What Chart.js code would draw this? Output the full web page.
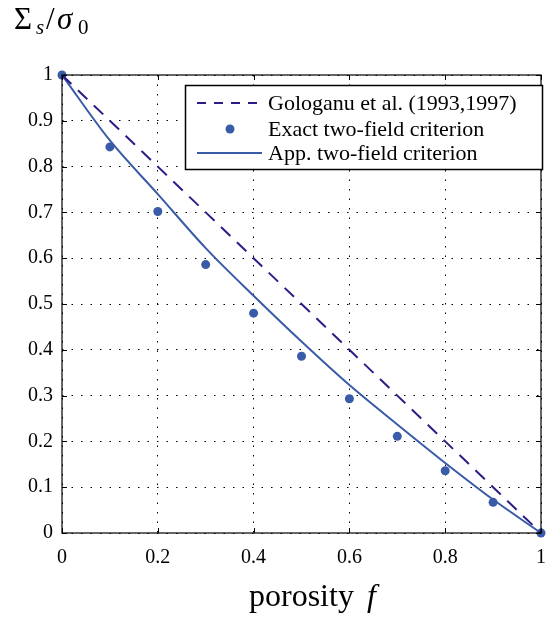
<!DOCTYPE html>
<html>
<head>
<meta charset="utf-8">
<script src="https://cdn.jsdelivr.net/npm/chart.js@4"></script>
<style>
  html, body { margin: 0; padding: 0; background: #fff; }
  #chart { display: block; }
</style>
</head>
<body>
<canvas id="chart" width="559" height="619"></canvas>
<script>
// --- DATA ---
const porosity = [0, 0.1, 0.2, 0.3, 0.4, 0.5, 0.6, 0.7, 0.8, 0.9, 1];
const gologanu = [1, 0.9, 0.8, 0.7, 0.6, 0.5, 0.4, 0.3, 0.2, 0.1, 0];
const exactTwoField = [1, 0.843, 0.702, 0.586, 0.480, 0.386, 0.293, 0.211, 0.136, 0.067, 0];
const approxTwoField = [1, 0.857, 0.740, 0.622, 0.518, 0.418, 0.323, 0.237, 0.153, 0.073, 0];
const xTicks = [0, 0.2, 0.4, 0.6, 0.8, 1];
const yTicks = [0, 0.1, 0.2, 0.3, 0.4, 0.5, 0.6, 0.7, 0.8, 0.9, 1];
const legendLabels = ['Gologanu et al. (1993,1997)', 'Exact two-field criterion', 'App. two-field criterion'];

const DASH_COLOR = '#2d1c86';
const BLUE = '#3a5ba8';
const FONT = '"Liberation Serif", "DejaVu Serif", serif';

const pts = ys => porosity.map((x, i) => ({ x: x, y: ys[i] }));

// --- CUSTOM DRAWING: frame, inward ticks, legend, axis titles ---
const decorations = {
    id: 'decorations',
    afterDraw(chart) {
        const ctx = chart.ctx;
        const a = chart.chartArea;
        const xs = chart.scales.x, ys = chart.scales.y;
        ctx.save();

        // frame
        ctx.strokeStyle = '#000';
        ctx.lineWidth = 1.2;
        ctx.strokeRect(a.left, a.top, a.right - a.left, a.bottom - a.top);

        // inward ticks on all four sides
        ctx.lineWidth = 1;
        xTicks.forEach(v => {
            const px = Math.round(xs.getPixelForValue(v)) + 0.5;
            ctx.beginPath();
            ctx.moveTo(px, a.bottom); ctx.lineTo(px, a.bottom - 5);
            ctx.moveTo(px, a.top); ctx.lineTo(px, a.top + 5);
            ctx.stroke();
        });
        yTicks.forEach(v => {
            const py = Math.round(ys.getPixelForValue(v)) + 0.5;
            ctx.beginPath();
            ctx.moveTo(a.left, py); ctx.lineTo(a.left + 5, py);
            ctx.moveTo(a.right, py); ctx.lineTo(a.right - 5, py);
            ctx.stroke();
        });

        // legend box
        const bx = 185, by = 85, bw = 357, bh = 84;
        ctx.fillStyle = '#fff';
        ctx.fillRect(bx, by, bw, bh);
        ctx.lineWidth = 1.5;
        ctx.strokeStyle = '#000';
        ctx.strokeRect(bx + 0.5, by + 0.5, bw, bh);

        const rows = [103, 129, 153];
        // dashed sample
        ctx.strokeStyle = DASH_COLOR;
        ctx.lineWidth = 2;
        ctx.setLineDash([9, 8]);
        ctx.beginPath(); ctx.moveTo(197, rows[0]); ctx.lineTo(264, rows[0]); ctx.stroke();
        ctx.setLineDash([]);
        // dot sample
        ctx.fillStyle = BLUE;
        ctx.beginPath(); ctx.arc(230, rows[1], 4.5, 0, Math.PI * 2); ctx.fill();
        // solid sample
        ctx.strokeStyle = BLUE;
        ctx.beginPath(); ctx.moveTo(197, rows[2]); ctx.lineTo(262, rows[2]); ctx.stroke();

        ctx.fillStyle = '#000';
        ctx.font = '22px ' + FONT;
        ctx.textBaseline = 'middle';
        ctx.textAlign = 'left';
        legendLabels.forEach((t, i) => ctx.fillText(t, 268, rows[i] + 1));

        // y-axis title: Σs/σ0
        ctx.textBaseline = 'alphabetic';
        ctx.font = '31px ' + FONT;
        ctx.fillText('Σ', 14, 29);
        ctx.font = 'italic 21px ' + FONT;
        ctx.fillText('s', 36, 34);
        ctx.font = '31px ' + FONT;
        ctx.fillText('/', 46, 29);
        ctx.font = 'italic 31px ' + FONT;
        ctx.fillText('σ', 57, 29);
        ctx.font = '21px ' + FONT;
        ctx.fillText('0', 78, 34);

        // x-axis title: porosity f
        ctx.font = '32px ' + FONT;
        ctx.fillText('porosity', 249, 606);
        ctx.font = 'italic 32px ' + FONT;
        ctx.fillText('f', 367, 606);

        ctx.restore();
    }
};

window.onload = () => {
    new Chart(document.getElementById('chart').getContext('2d'), {
        type: 'line',
        data: {
            datasets: [
                {
                    label: legendLabels[0],
                    data: pts(gologanu),
                    borderColor: DASH_COLOR,
                    borderWidth: 2,
                    borderDash: [13, 9],
                    pointRadius: 0,
                    fill: false
                },
                {
                    label: legendLabels[1],
                    data: pts(exactTwoField),
                    showLine: false,
                    pointRadius: 4.5,
                    pointBackgroundColor: BLUE,
                    pointBorderWidth: 0,
                    clip: false
                },
                {
                    label: legendLabels[2],
                    data: pts(approxTwoField),
                    borderColor: BLUE,
                    borderWidth: 2,
                    pointRadius: 0,
                    cubicInterpolationMode: 'monotone',
                    fill: false
                }
            ]
        },
        options: {
            responsive: false,
            animation: false,
            layout: { padding: { left: 0, top: 75, right: 14, bottom: 0 } },
            plugins: { legend: { display: false }, tooltip: { enabled: false } },
            scales: {
                x: {
                    type: 'linear', min: 0, max: 1,
                    afterFit: s => { s.height = 86; },
                    afterBuildTicks: s => { s.ticks = xTicks.map(v => ({ value: v })); },
                    grid: { color: '#000', lineWidth: 1, drawTicks: false },
                    border: { display: false, dash: [1.5, 8] },
                    ticks: {
                        padding: 13, color: '#000',
                        font: { family: FONT, size: 20 },
                        callback: v => String(v)
                    }
                },
                y: {
                    type: 'linear', min: 0, max: 1,
                    afterFit: s => { s.width = 62; },
                    afterBuildTicks: s => { s.ticks = yTicks.map(v => ({ value: v })); },
                    grid: { color: '#000', lineWidth: 1, drawTicks: false },
                    border: { display: false, dash: [1.5, 8] },
                    ticks: {
                        padding: 9, color: '#000',
                        font: { family: FONT, size: 20 },
                        callback: v => String(v)
                    }
                }
            }
        },
        plugins: [decorations]
    });
};
</script>
</body>
</html>
